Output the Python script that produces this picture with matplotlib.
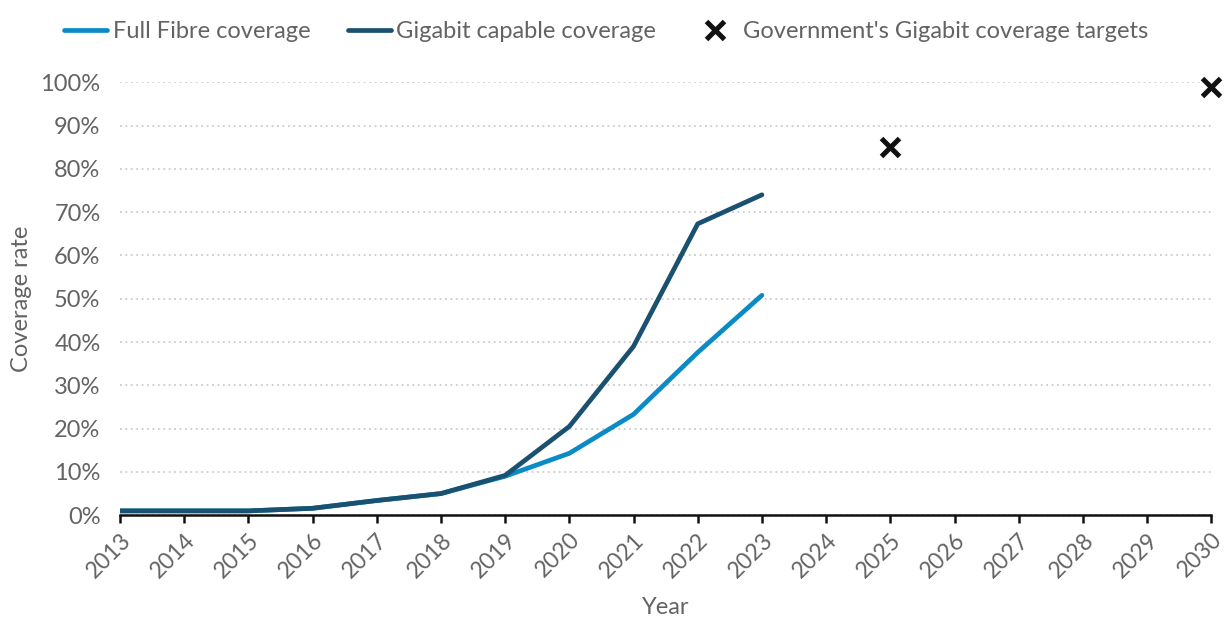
import matplotlib.pyplot as plt
from matplotlib.ticker import FuncFormatter

plt.rcParams['font.family'] = ['Lato', 'DejaVu Sans']

years = list(range(2013, 2031))
data_years = list(range(2013, 2024))
full_fibre = [1.0, 1.0, 1.0, 1.6, 3.4, 5.0, 9.0, 14.3, 23.3, 37.6, 50.8]
gigabit = [1.0, 1.0, 1.0, 1.6, 3.4, 5.0, 9.2, 20.5, 39.0, 67.3, 74.0]
target_years = [2025, 2030]
targets = [85, 99]

grey = '#636363'
fs = 17
fig = plt.figure(figsize=(12.29, 6.23), dpi=100)
ax = fig.add_axes([0.0976, 0.173, 0.888, 0.695])

ax.plot(data_years, full_fibre, color='#0a8bc6', lw=3.4, solid_capstyle='round',
        label='Full Fibre coverage', zorder=3)
ax.plot(data_years, gigabit, color='#1a5170', lw=3.4, solid_capstyle='round',
        label='Gigabit capable coverage', zorder=3)
ax.plot(target_years, targets, ls='none', marker='x', ms=13, mew=3.6, color='#111111',
        label="Government's Gigabit coverage targets", clip_on=False, zorder=4)

ax.set_xlim(2013, 2030)
ax.set_ylim(0, 100)
ax.set_xticks(years)
ax.set_yticks(range(0, 101, 10))
ax.yaxis.set_major_formatter(FuncFormatter(lambda v, p: f'{v:.0f}%'))
ax.grid(axis='y', color='#cccccc', ls=(0, (1, 2)), lw=1.3)
ax.set_axisbelow(True)
for s in ['top', 'right', 'left']:
    ax.spines[s].set_visible(False)
ax.spines['bottom'].set_color('#111111')
ax.spines['bottom'].set_linewidth(1.8)
ax.tick_params(axis='x', length=6, width=1.8, color='#111111', labelsize=16.5,
               labelcolor=grey, pad=4)
ax.tick_params(axis='y', length=0, labelsize=fs, labelcolor=grey, pad=14)
plt.setp(ax.get_xticklabels(), rotation=45, ha='right', rotation_mode='anchor')

ax.set_xlabel('Year', fontsize=fs, color=grey, labelpad=11)
ax.set_ylabel('Coverage rate', fontsize=fs, color=grey, labelpad=6)

fig.legend(loc='upper left', bbox_to_anchor=(0.035, 1.0), ncol=3, frameon=False,
           fontsize=fs, labelcolor=grey, handlelength=1.8, handletextpad=0.25,
           columnspacing=1.6)

fig.savefig('out.png', dpi=100)
